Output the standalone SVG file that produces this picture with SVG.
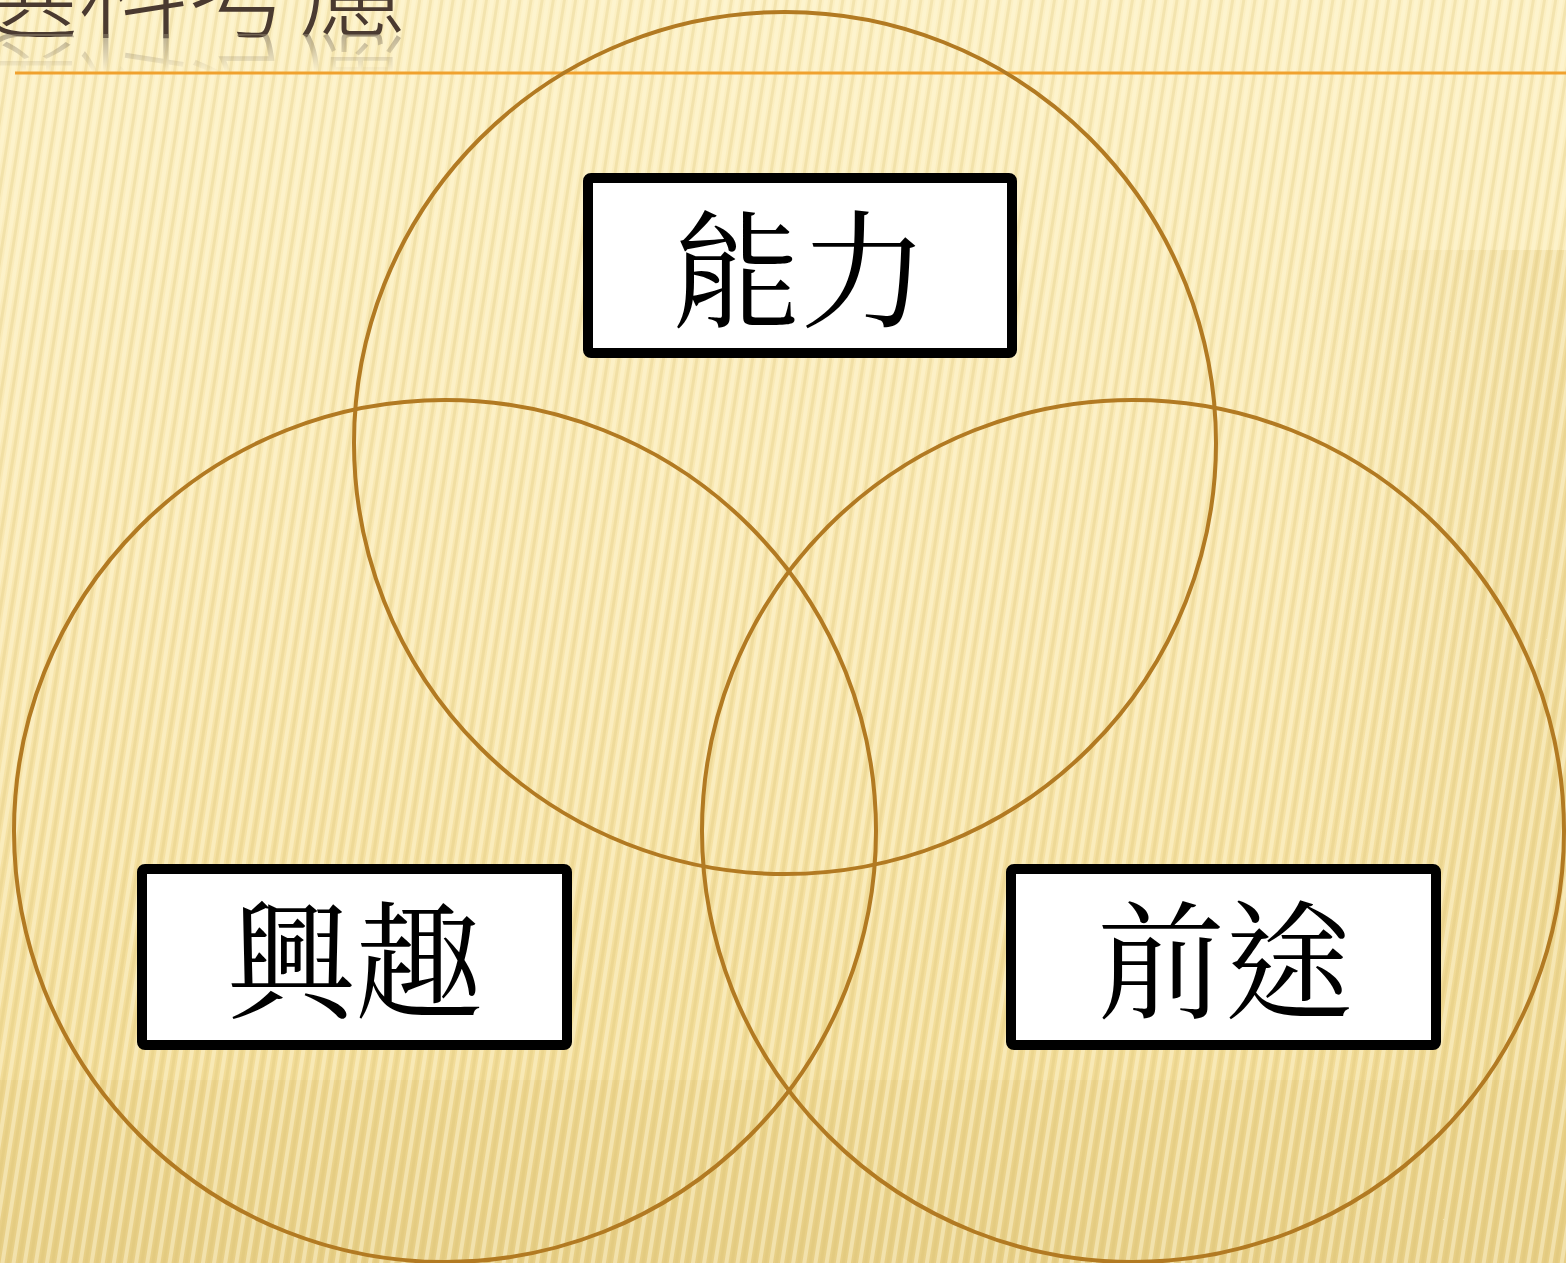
<svg xmlns="http://www.w3.org/2000/svg" width="1566" height="1263" viewBox="0 0 1566 1263">
<defs>
<linearGradient id="bg" x1="0" y1="0" x2="0" y2="1">
<stop offset="0" stop-color="#FCF0C4"/>
<stop offset="0.5" stop-color="#F8E6AE"/>
<stop offset="0.85" stop-color="#F2DC98"/>
<stop offset="1" stop-color="#E8D088"/>
</linearGradient>
<linearGradient id="side" x1="0" y1="0" x2="1" y2="0">
<stop offset="0" stop-color="#E8CF86" stop-opacity="0"/>
<stop offset="1" stop-color="#E8CF86" stop-opacity="0.5"/>
</linearGradient>
<pattern id="stripes" width="11" height="40" patternUnits="userSpaceOnUse" patternTransform="rotate(9)">
<rect x="0" y="0" width="4" height="40" fill="#FFF8DA" opacity="0.45"/>
<rect x="6" y="0" width="3" height="40" fill="#D9BE70" opacity="0.25"/>
</pattern>
<linearGradient id="fade" x1="0" y1="0" x2="0" y2="1">
<stop offset="0" stop-color="#fff" stop-opacity="0.6"/>
<stop offset="1" stop-color="#fff" stop-opacity="0"/>
</linearGradient>
<mask id="reflmask" maskUnits="userSpaceOnUse" x="0" y="0" width="1566" height="100">
<rect x="0" y="34" width="500" height="38" fill="url(#fade)"/>
</mask>
<style>
.ring{fill:none;stroke:#B27A22;stroke-width:4}
.box{fill:#FFFFFF;stroke:#000000;stroke-width:10}
.lbl{font-family:"Noto Serif CJK TC","Noto Sans CJK TC",serif;font-size:128px;fill:#000;text-anchor:middle}
.title{font-family:"Noto Sans CJK TC","Noto Sans CJK SC",sans-serif;font-size:110px;font-weight:300;fill:#4A3A30}
</style>
</defs>
<rect width="1566" height="1263" fill="url(#bg)"/>
<rect x="1300" y="250" width="266" height="1013" fill="url(#side)"/>
<rect x="0" y="1080" width="1566" height="183" fill="#E6CC82" opacity="0.35"/>
<rect width="1566" height="1263" fill="url(#stripes)"/>
<g id="title">
<text class="title" x="-32" y="30">選科考慮</text>
<g mask="url(#reflmask)">
<text class="title" x="-32" y="-38" transform="scale(1,-1)" style="fill:#8C806A">選科考慮</text>
</g>
</g>
<line x1="15" y1="73" x2="1566" y2="73" stroke="#F0A12E" stroke-width="3"/>
<g id="circles">
<circle id="circle-top" class="ring" cx="785" cy="443" r="431"/>
<circle id="circle-left" class="ring" cx="445" cy="831" r="431"/>
<circle id="circle-right" class="ring" cx="1133" cy="831" r="431"/>
</g>
<g id="connectors"></g>
<g id="node-ability">
<rect class="box" x="588" y="178" width="424" height="175" rx="3"/>
<text class="lbl" x="800" y="318">能力</text>
</g>
<g id="node-interest">
<rect class="box" x="142" y="869" width="425" height="176" rx="3"/>
<text class="lbl" x="355" y="1009">興趣</text>
</g>
<g id="node-prospect">
<rect class="box" x="1011" y="869" width="425" height="176" rx="3"/>
<text class="lbl" x="1225" y="1009">前途</text>
</g>
</svg>
